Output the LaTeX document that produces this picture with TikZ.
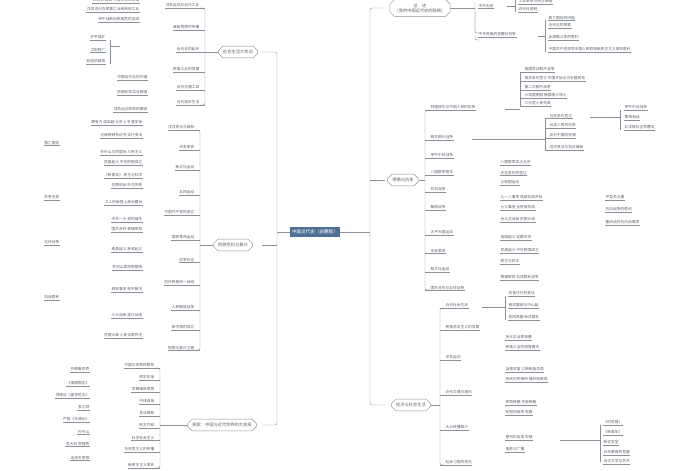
\documentclass[tikz,border=0pt]{standalone}
\usepackage{fontspec}
\setmainfont{Noto Sans CJK SC}
\usetikzlibrary{shapes.misc}
\definecolor{lnc}{HTML}{8A9099}
\definecolor{txc}{HTML}{5A5F66}
\definecolor{ctr}{HTML}{4E7096}
\tikzset{
  ln/.style={draw=lnc, line width=0.6pt},
  lf/.style={inner sep=0.8pt, font=\fontsize{5.3}{6}\selectfont, text=txc},
  topic/.style={chamfered rectangle, chamfered rectangle xsep=3pt, draw=lnc, fill=white, line width=0.6pt,
                inner xsep=4pt, inner ysep=2pt, font=\fontsize{6}{7}\selectfont, text=txc, align=center}
}
% right and left leaves: text with its underline
\newcommand\rleaf[3]{\node[lf,anchor=south west] (lv) at (#1,#2) {#3}; \draw[ln] (lv.south west) -- (lv.south east);}
\newcommand\lleaf[3]{\node[lf,anchor=south east] (lv) at (#1,#2) {#3}; \draw[ln] (lv.south east) -- (lv.south west);}
\begin{document}
\begin{tikzpicture}[x=0.05cm,y=-0.05cm]
\useasboundingbox (0,0) rectangle (700,470);

% centre
\node[fill=ctr, text=white, font=\fontsize{6.5}{7.5}\selectfont, minimum width=60pt, minimum height=15pt] (root) at (315,232) {中国近代史（岳麓版）};
\coordinate (rt) at (370,232);
\coordinate (lt) at (277,232);
\draw[ln] (root.east) -- (rt) (root.west) -- (lt);
\draw[ln, rounded corners=3pt] (385,8) -- (370,8) -- (370,405) -- (385,405);
\draw[ln] (370,180) -- (385,180);
\draw[ln, rounded corners=3pt] (262,52) -- (277,52) -- (277,425) -- (262,425);
\draw[ln] (277,245) -- (262,245);

% right topics
\node[topic] (zs) at (420,8) {总\quad 述\\（我的中国近代史的脉络）};
\node[topic] (ql) at (403,180) {侵略与抗争};
\node[topic] (jj) at (411,405) {经济与社会生活};
% left topics
\node[topic] (sh) at (238,52) {社会生活大变动};
\node[topic] (mz) at (233,245) {民族危机与复兴};
\node[topic] (ts) at (222,425) {探索：中国与近代世界的大变局};

% ---- 总述
\draw[ln, rounded corners=3pt] (zs.east) -- (475,8);
\draw[ln, rounded corners=3pt] (475,2) -- (475,33) -- (480,33);
\draw[ln, rounded corners=3pt] (475,8) -- (475,40) -- (480,40);
\rleaf{478}{8}{中外历史}
\draw[ln] (507,6) -- (515,6) (515,0) -- (515,12);
\rleaf{518}{4}{工业革命与西方侵略}
\rleaf{518}{12}{近代化进程}
\rleaf{478}{37}{中华民族的觉醒与抗争}
\draw[ln] (538,36) -- (545,36) (545,20) -- (545,52);
\foreach \y/\t in {20/救亡图存的历程,28/近代化的探索,40/反侵略斗争的胜利,52/中国共产党领导中国人民取得新民主主义革命胜利}
  {\rleaf{548}{\y}{\t}}

% ---- 侵略与抗争
\draw[ln] (ql.east) -- (425,180);
\draw[ln, rounded corners=3pt] (430,110) -- (425,110) -- (425,290) -- (430,290);
\foreach \y/\t in {110/列强侵华与中国人民的抗争,140/两次鸦片战争,158/甲午中日战争,175/八国联军侵华,192/抗日战争,210/解放战争,235/太平天国运动,253/辛亥革命,272/新文化运动,290/国共合作与北伐战争}
  {\draw[ln] (425,\y) -- (430,\y); \rleaf{430}{\y}{\t}}
\draw[ln] (505,109) -- (520,109) (520,72) -- (520,106);
\foreach \y/\t in {72/英国发动鸦片战争,81/南京条约签订 中国开始沦为半殖民地,90/第二次鸦片战争,98/火烧圆明园 俄国侵占领土,106/三元里人民抗英}
  {\draw[ln] (520,\y) -- (524,\y); \rleaf{524}{\y}{\t}}
\draw[ln] (472,139) -- (545,139) (545,118) -- (545,150);
\foreach \y/\t in {118/马关条约签订,128/台湾人民的抗争,138/瓜分中国的狂潮,150/戊戌变法与百日维新}
  {\draw[ln] (545,\y) -- (549,\y); \rleaf{549}{\y}{\t}}
\draw[ln] (590,117) -- (620,117) (620,110) -- (620,130);
\foreach \y/\t in {110/甲午中日战争,120/黄海海战,130/北洋舰队全军覆没}
  {\rleaf{624}{\y}{\t}}
\foreach \y/\t in {165/八国联军攻占北京,175/辛丑条约的签订,185/义和团运动,200/九一八事变 局部抗战开始,210/七七事变 全民族抗战,222/台儿庄战役 百团大战,240/金田起义 定都天京,253/武昌起义 中华民国成立,264/民主与科学,280/黄埔军校 北伐胜利进军}
  {\rleaf{500}{\y}{\t}}
\foreach \y/\t in {200/平型关大捷,212/抗日战争的胜利,225/重庆谈判与内战爆发}
  {\rleaf{605}{\y}{\t}}

% ---- 经济与社会生活
\draw[ln] (jj.east) -- (440,405);
\draw[ln, rounded corners=3pt] (445,308) -- (440,308) -- (440,465) -- (445,465);
\foreach \y/\t in {308/近代社会生活,330/民族资本主义的发展,360/洋务运动,395/近代交通与通讯,430/大众传播媒介,465/社会习俗的变化}
  {\draw[ln] (440,\y) -- (445,\y); \rleaf{445}{\y}{\t}}
\draw[ln] (482,307) -- (505,307) (505,296) -- (505,320);
\foreach \y/\t in {296/衣食住行的变化,308/西式服装与中山装,320/剪辫易服 新式婚礼}
  {\rleaf{508}{\y}{\t}}
\foreach \y/\t in {340/状元实业家张謇,350/民族工业的短暂春天,372/自强求富 江南制造总局,382/安庆内军械所 福州船政局,405/修筑铁路 京张铁路,415/轮船招商局 电报,440/报刊的出现 申报,452/电影与广播}
  {\rleaf{505}{\y}{\t}}
\draw[ln] (560,440) -- (600,440) (600,425) -- (600,462);
\foreach \y/\t in {425/《时务报》,435/《新青年》,445/新式学堂,455/近代教育的发展,464/近代文学与艺术}
  {\rleaf{603}{\y}{\t}}

% ---- 社会生活大变动
\draw[ln] (sh.west) -- (205,52);
\draw[ln, rounded corners=3pt] (200,8) -- (205,8) -- (205,105) -- (200,105);
\foreach \y/\t in {8/洋务运动与近代工业,30/维新思想的传播,52/近代化的起步,72/民族工业的发展,90/近代交通工具,105/近代城市生活}
  {\draw[ln] (205,\y) -- (200,\y); \lleaf{200}{\y}{\t}}
\foreach \y/\t in {3/林则徐 魏源 师夷长技以制夷,12/洋务派兴办军事工业和民用工业,22/甲午战败后民族危机加深}
  {\lleaf{140}{\y}{\t}}
\draw[ln] (120,46) -- (110,46) (110,40) -- (110,64);
\foreach \y/\t in {40/开平煤矿,52/汉阳铁厂,64/轮船招商局}
  {\lleaf{106}{\y}{\t}}
\foreach \y/\t in {80/中国近代化的开端,95/民国初年实业救国,112/洋务运动失败的原因}
  {\lleaf{148}{\y}{\t}}

% ---- 民族危机与复兴
\draw[ln] (mz.west) -- (200,245);
\draw[ln, rounded corners=3pt] (195,130) -- (200,130) -- (200,350) -- (195,350);
\foreach \y/\t in {130/戊戌变法与维新,150/辛亥革命,170/新文化运动,195/五四运动,215/中国共产党的成立,240/国民革命运动,262/红军长征,285/抗日民族统一战线,310/人民解放战争,330/新中国的成立,350/探索与复兴之路}
  {\draw[ln] (200,\y) -- (195,\y); \lleaf{195}{\y}{\t}}
\foreach \y/\t in {125/康有为 梁启超 公车上书 强学会,138/光绪帝颁布诏书 实行变法,155/孙中山与同盟会 三民主义,165/武昌起义 中华民国成立,178/《新青年》 民主与科学,188/巴黎和会 外交失败,205/工人阶级登上政治舞台,222/中共一大 党的诞生,232/国共合作 黄埔军校,252/南昌起义 秋收起义,270/井冈山革命根据地,292/西安事变 和平解决,318/三大战役 渡江战役,338/开国大典 人民当家作主}
  {\lleaf{143}{\y}{\t}}
\foreach \y/\t in {145/救亡图存,200/外争主权,245/北伐战争,300/抗战胜利}
  {\lleaf{60}{\y}{\t}}

% ---- 探索
\draw[ln] (ts.west) -- (160,425);
\draw[ln, rounded corners=3pt] (155,368) -- (160,368) -- (160,468) -- (155,468);
\foreach \y/\t in {368/中国与世界的联系,380/西学东渐,392/早期维新思想,404/中体西用,416/变法维新,428/民主共和,440/科学社会主义,452/马克思主义的传播,468/新民主主义革命}
  {\draw[ln] (160,\y) -- (155,\y); \lleaf{155}{\y}{\t}}
\foreach \y/\t in {372/开眼看世界,386/《海国图志》,398/郑观应《盛世危言》,410/张之洞,422/严复《天演论》,434/孙中山,446/李大钊 陈独秀,460/毛泽东思想}
  {\lleaf{90}{\y}{\t}}
\end{tikzpicture}
\end{document}
